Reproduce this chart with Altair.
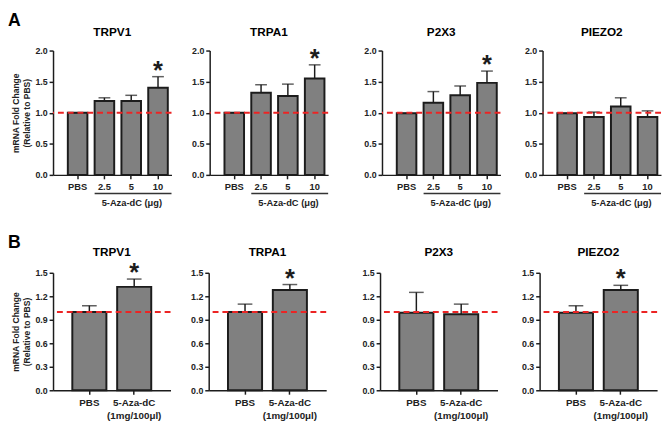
import altair as alt
import pandas as pd

GENES = ["TRPV1", "TRPA1", "P2X3", "PIEZO2"]

# ---- Panel A: 5-Aza-dC dose series ----
DOSES_A = ["PBS", "2.5", "5", "10"]
TRPV1_A_MEAN = [1.00, 1.19, 1.19, 1.40]
TRPV1_A_SEM = [0.00, 0.05, 0.09, 0.18]
TRPA1_A_MEAN = [1.00, 1.32, 1.27, 1.55]
TRPA1_A_SEM = [0.00, 0.13, 0.19, 0.22]
P2X3_A_MEAN = [0.99, 1.16, 1.28, 1.48]
P2X3_A_SEM = [0.00, 0.18, 0.15, 0.19]
PIEZO2_A_MEAN = [0.99, 0.93, 1.10, 0.93]
PIEZO2_A_SEM = [0.00, 0.08, 0.14, 0.10]
TRPV1_A_STAR = [False, False, False, True]
TRPA1_A_STAR = [False, False, False, True]
P2X3_A_STAR = [False, False, False, True]
PIEZO2_A_STAR = [False, False, False, False]
Y_TICKS_A = [0.0, 0.5, 1.0, 1.5, 2.0]

# ---- Panel B: single dose ----
GROUPS_B = ["PBS", "5-Aza-dC|(1mg/100\u03bcl)"]
TRPV1_B_MEAN = [1.00, 1.32]
TRPV1_B_SEM = [0.08, 0.10]
TRPA1_B_MEAN = [1.00, 1.28]
TRPA1_B_SEM = [0.10, 0.07]
P2X3_B_MEAN = [0.99, 0.97]
P2X3_B_SEM = [0.26, 0.13]
PIEZO2_B_MEAN = [0.99, 1.28]
PIEZO2_B_SEM = [0.09, 0.06]
TRPV1_B_STAR = [False, True]
TRPA1_B_STAR = [False, True]
P2X3_B_STAR = [False, False]
PIEZO2_B_STAR = [False, True]
Y_TICKS_B = [0.0, 0.3, 0.6, 0.9, 1.2, 1.5]

REF_LEVEL = [1.0]
Y_TITLE = ["mRNA Fold  Change", "(Relative to PBS)"]
X_TITLE_A = "5-Aza-dC (\u03bcg)"

FONT = "Liberation Sans"
INK = "#1c1c1c"
LABEL = "#222222"
GREY = "#808080"
RED = "#ec2424"


def panel(gene, cats, means, sems, stars, *, yticks, width, height, xscale_kw,
          cap, first, letter, xtitle, label_size, title_y, label_pad,
          bracket_from=None):
    upper = [m + s for m, s in zip(means, sems)]
    df = pd.DataFrame({"cat": cats, "mean": means, "upper": upper, "star": stars})
    xs = alt.Scale(domain=cats, **xscale_kw)
    ys = alt.Scale(domain=[yticks[0], yticks[-1]], nice=False)

    xaxis_kw = dict(labelAngle=0, labelFontSize=label_size,
                    labelExpr="split(datum.label, '|')", labelLineHeight=13,
                    labelPadding=label_pad)
    if xtitle:
        xaxis_kw.update(title=xtitle, titleFontSize=9.5, titleX=80, titleY=23,
                        titleBaseline="top", titleAnchor="start", titleAlign="center")
    else:
        xaxis_kw.update(title=None)
    yaxis_kw = dict(values=yticks, format=".1f", labelFontSize=9, labelPadding=2)
    if first:
        yaxis_kw.update(title=Y_TITLE, titleFontSize=8.7, titleLineHeight=12,
                        titlePadding=3)
    else:
        yaxis_kw.update(title=None)
    xaxis = alt.Axis(**xaxis_kw)
    yaxis = alt.Axis(**yaxis_kw)

    def X(**kw):
        return alt.X("cat:N", scale=xs, axis=xaxis, **kw)

    def Y(field):
        return alt.Y(field, scale=ys, axis=yaxis)

    base = alt.Chart(df)
    bars = base.mark_bar(fill=GREY, stroke=INK, strokeWidth=2).encode(
        x=X(), y=Y("mean:Q"))
    err = base.mark_rule(color=INK, strokeWidth=1.5).encode(
        x=X(), y=Y("mean:Q"), y2="upper:Q")
    caps = base.mark_tick(color=INK, thickness=1.5, size=cap).encode(
        x=X(), y=Y("upper:Q"))
    ref = alt.Chart(pd.DataFrame({"mean": REF_LEVEL})).mark_rule(
        color=RED, strokeWidth=2, strokeDash=[6, 4]).encode(y=Y("mean:Q"))
    star = base.transform_filter("datum.star").mark_text(
        text="*", font=FONT, fontWeight="bold", fontSize=26, baseline="alphabetic",
        dy=2, color=INK).encode(x=X(), y=Y("upper:Q"))
    title = alt.Chart(pd.DataFrame({"g": [gene]})).mark_text(
        font=FONT, fontWeight="bold", fontSize=12, color="black",
        align="center", baseline="middle").encode(
        text="g:N", x=alt.value(width / 2), y=alt.value(title_y))
    layers = [bars, err, caps, ref, star, title]
    if bracket_from is not None:
        br = alt.Chart(pd.DataFrame({"cat": [bracket_from]})).mark_rule(
            color="#333333", strokeWidth=1.5).encode(
            x=X(bandPosition=0),
            x2=alt.value("width"),
            y=alt.value(height + 19))
        layers.append(br)
    if letter:
        lt = alt.Chart(pd.DataFrame({"t": [letter]})).mark_text(
            font=FONT, fontWeight="bold", fontSize=18, align="left", baseline="top",
            color="black").encode(text="t:N", x=alt.value(-46), y=alt.value(-39))
        layers.append(lt)
    return alt.layer(*layers).properties(width=width, height=height)


A_DATA = [
    (TRPV1_A_MEAN, TRPV1_A_SEM, TRPV1_A_STAR),
    (TRPA1_A_MEAN, TRPA1_A_SEM, TRPA1_A_STAR),
    (P2X3_A_MEAN, P2X3_A_SEM, P2X3_A_STAR),
    (PIEZO2_A_MEAN, PIEZO2_A_SEM, PIEZO2_A_STAR),
]
B_DATA = [
    (TRPV1_B_MEAN, TRPV1_B_SEM, TRPV1_B_STAR),
    (TRPA1_B_MEAN, TRPA1_B_SEM, TRPA1_B_STAR),
    (P2X3_B_MEAN, P2X3_B_SEM, P2X3_B_STAR),
    (PIEZO2_B_MEAN, PIEZO2_B_SEM, PIEZO2_B_STAR),
]


def row(panels):
    return alt.hconcat(
        alt.hconcat(panels[0], panels[1], spacing=19),
        alt.hconcat(panels[2], panels[3], spacing=23),
        spacing=35,
    )


row_a = row([
    panel(g, DOSES_A, m, s, st, yticks=Y_TICKS_A, width=121, height=127,
          xscale_kw=dict(paddingInner=0.27, paddingOuter=0.345, align=0.8),
          cap=12, first=(i == 0), letter="A" if i == 0 else None,
          xtitle=X_TITLE_A, label_size=9.5, title_y=-19, label_pad=3,
          bracket_from="2.5")
    for i, (g, (m, s, st)) in enumerate(zip(GENES, A_DATA))
])

row_b = row([
    panel(g, GROUPS_B, m, s, st, yticks=Y_TICKS_B, width=120, height=120,
          xscale_kw=dict(paddingInner=0.24, paddingOuter=0.43, align=0.5),
          cap=15, first=(i == 0), letter="B" if i == 0 else None,
          xtitle=None, label_size=10, title_y=-21, label_pad=4)
    for i, (g, (m, s, st)) in enumerate(zip(GENES, B_DATA))
])

chart = alt.vconcat(row_a, row_b, spacing=28).properties(
    padding={"left": 0, "top": 0, "right": 0, "bottom": 0}
).configure_view(stroke=None).configure_axis(
    grid=False, domainColor=INK, domainWidth=1.5, tickColor=INK, tickWidth=1.5,
    tickSize=4, labelFont=FONT, labelFontWeight="bold", labelColor=LABEL,
    titleFont=FONT, titleFontWeight="bold", titleColor=LABEL
)

chart.save("out.html", embed_options={"renderer": "svg", "actions": False})
